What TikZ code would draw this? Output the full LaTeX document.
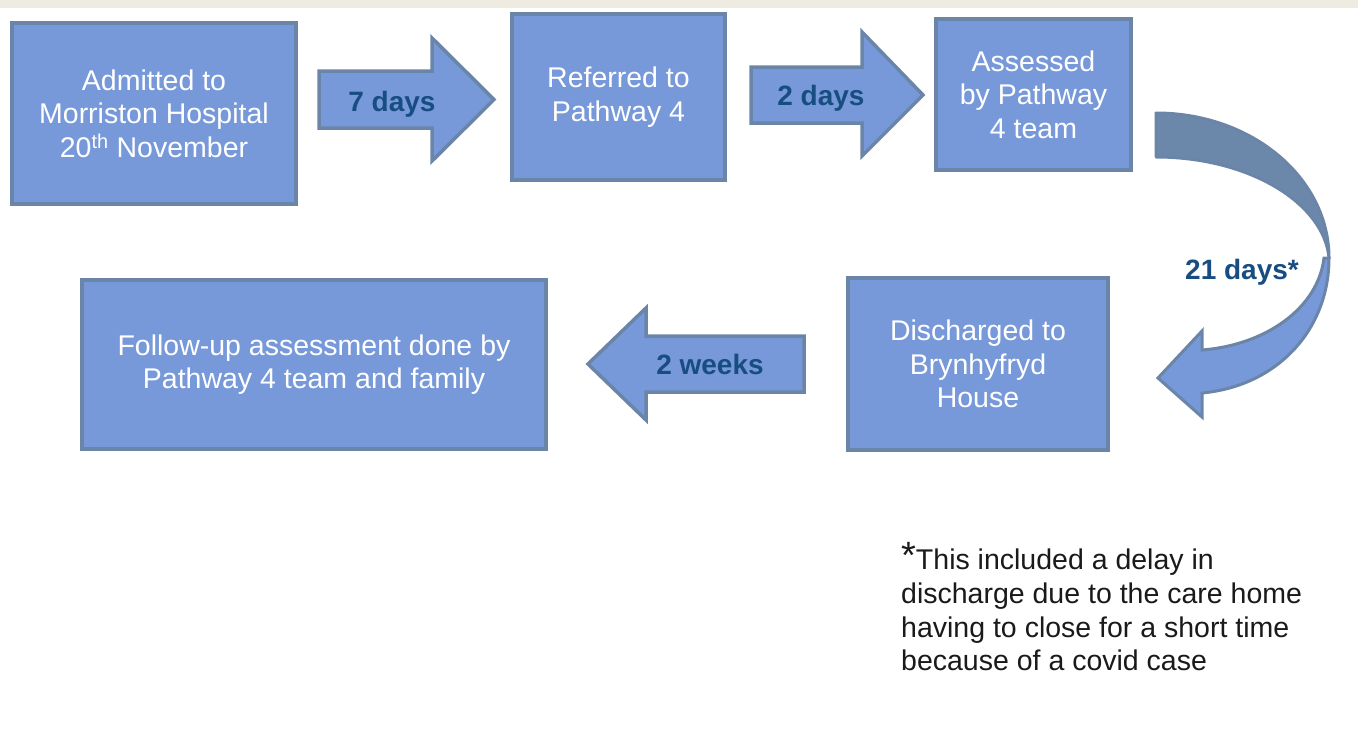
\documentclass[tikz,border=0pt]{standalone}
\usepackage{fontspec}
\setmainfont{Liberation Sans}
\definecolor{boxfill}{HTML}{7799D9}
\definecolor{boxline}{HTML}{6A85A8}
\definecolor{darkpart}{HTML}{6B87AA}
\definecolor{labelblue}{HTML}{174D80}
\definecolor{strip}{HTML}{EEEBE0}
\definecolor{notetext}{HTML}{1A1A1A}
\begin{document}
\begin{tikzpicture}[x=1pt,y=-1pt,
  box/.style={draw=boxline, fill=boxfill, line width=3.5pt, text=white, align=center, inner sep=0pt,
              font=\fontsize{28.5}{33.5}\selectfont},
  blockarrow/.style={draw=boxline, fill=boxfill, line width=3.5pt, line join=miter},
  lbl/.style={text=labelblue, font=\fontsize{28}{33}\selectfont\bfseries, inner sep=0pt, anchor=base},
  note/.style={text=notetext, align=left, inner sep=0pt, font=\fontsize{28.5}{33.7}\selectfont}]
\useasboundingbox (0,0) rectangle (1358,729);
\fill[white] (0,0) rectangle (1358,729);
\fill[strip] (0,0) rectangle (1358,8);

% boxes
\node[box, minimum width=284pt, minimum height=181pt] (admit) at (154,113.5)
  {Admitted to\\Morriston Hospital\\20\textsuperscript{th} November};
\node[box, minimum width=213pt, minimum height=166pt] (refer) at (618.5,97)
  {Referred to\\Pathway 4};
\node[box, minimum width=195pt, minimum height=151pt] (assess) at (1033.5,94.5)
  {Assessed\\by Pathway\\4 team};
\node[box, minimum width=260pt, minimum height=172pt] (disch) at (978,364)
  {Discharged to\\Brynhyfryd\\House};
\node[box, minimum width=464pt, minimum height=169pt] (follow) at (314,364.5)
  {Follow-up assessment done by\\Pathway 4 team and family};

% block arrows
\draw[blockarrow] (319,71) -- (432,71) -- (432,38) -- (494,99.5) -- (432,161) -- (432,128) -- (319,128) -- cycle;
\draw[blockarrow] (751,67) -- (862,67) -- (862,32) -- (923,95) -- (862,156) -- (862,123) -- (751,123) -- cycle;
\draw[blockarrow] (804,336) -- (646,336) -- (646,308) -- (588,364) -- (646,420) -- (646,392) -- (804,392) -- cycle;

% curved arrow (upper dark part, lower light part with head)
\draw[draw=boxline, fill=darkpart, line width=3pt, line join=round]
  (1156,113) .. controls (1252,113) and (1329,178) .. (1329,258)
  .. controls (1324,203) and (1249,157) .. (1156,157) -- cycle;
\draw[draw=boxline, fill=boxfill, line width=3pt, line join=miter]
  (1329,258) .. controls (1329,330) and (1277,386) .. (1202,393)
  -- (1202,417) -- (1158,378) -- (1202,331) -- (1202,350)
  .. controls (1266,345) and (1318,308) .. (1324,258) -- cycle;

% labels
\node[lbl] (l7) at (392,111) {7 days};
\node[lbl] (l2d) at (821,105) {2 days};
\node[lbl] (l2w) at (710,374) {2 weeks};
\node[lbl] (l21) at (1242,279) {21 days*};

% footnote
\node[note, anchor=west] (fn) at (901,610)
  {\smash{\raisebox{1pt}{\fontsize{38}{38}\selectfont *}}This included a delay in\\
   discharge due to the care home\\
   having to close for a short time\\
   because of a covid case};
\end{tikzpicture}
\end{document}
